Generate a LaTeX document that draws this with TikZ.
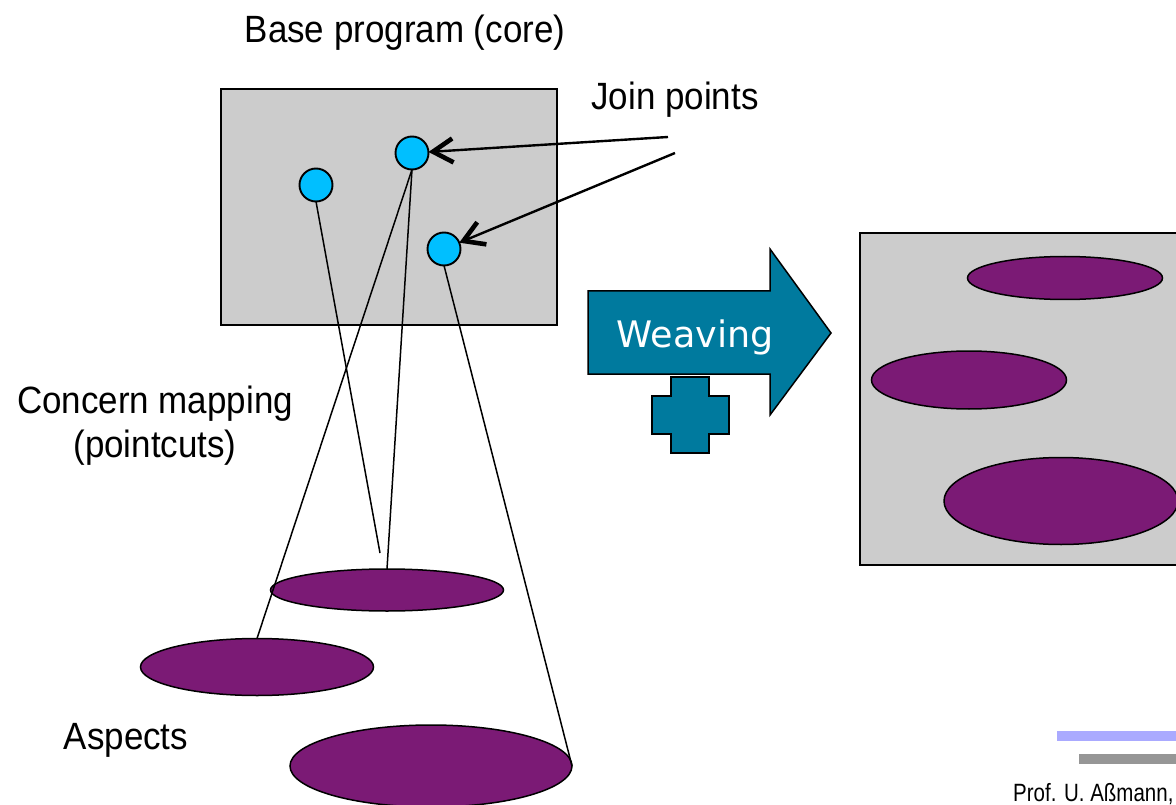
\documentclass[tikz,border=0pt]{standalone}
\usepackage{fontspec}
\setmainfont{Liberation Sans}
\newfontfamily\weavefont{DejaVu Sans}
\newfontfamily\narrowfont[FakeStretch=0.92]{Liberation Sans}
\newfontfamily\footfont[FakeStretch=0.82]{Liberation Sans}
\usetikzlibrary{shapes.geometric,arrows.meta}
\definecolor{boxgray}{HTML}{CCCCCC}
\definecolor{teal0}{HTML}{007A9E}
\definecolor{purp}{HTML}{7B1A75}
\definecolor{cyan0}{HTML}{00BFFF}
\definecolor{barblue}{HTML}{AAAAFF}
\definecolor{bargray}{HTML}{969696}
\tikzset{
  x=1pt,y=-1pt,
  panel/.style={draw=black,fill=boxgray,line width=1.4pt,inner sep=0pt,outer sep=0pt,anchor=north west},
  joint/.style={circle,draw=black,fill=cyan0,line width=1.9pt,minimum size=33pt,inner sep=0pt,outer sep=0pt},
  aspect/.style={ellipse,draw=black,fill=purp,line width=1.5pt,inner sep=0pt,outer sep=0pt},
  lbl/.style={font=\fontsize{38}{44}\selectfont\narrowfont,inner sep=0pt,align=center,text=black},
  link/.style={draw=black,line width=1.5pt},
  pointer/.style={draw=black,line width=2.4pt,-{Straight Barb[length=20pt,width=24pt,line width=4.6pt]}},
  shapeteal/.style={draw=black,fill=teal0,line width=1.5pt,line join=miter}
}
\begin{document}
\begin{tikzpicture}
\useasboundingbox (0,0) rectangle (1176,805);
\clip (0,0) rectangle (1176,805);
\node[panel,minimum width=336pt,minimum height=236pt] (base) at (221,89) {};
\node[panel,minimum width=330pt,minimum height=332pt] (woven) at (860,233) {};
\node[joint] (c1) at (316,185) {};
\node[joint] (c2) at (412,153) {};
\node[joint] (c3) at (444,249) {};
\node[aspect,minimum width=233pt,minimum height=42pt] (a1) at (387,590) {};
\node[aspect,minimum width=233pt,minimum height=57pt] (a2) at (257,667) {};
\node[aspect,minimum width=282pt,minimum height=82pt] (a3) at (431,766) {};
\node[aspect,minimum width=195pt,minimum height=43pt] (r1) at (1065,278) {};
\node[aspect,minimum width=195pt,minimum height=58pt] (r2) at (969,380) {};
\node[aspect,minimum width=234pt,minimum height=87pt] (r3) at (1061,501) {};
\coordinate (e1) at (380,553);
\coordinate (jp1) at (668,137);
\coordinate (jp2) at (675,153);
\draw[link] (c1.south) -- (e1);
\draw[link] (c2.south) -- (a1.north);
\draw[link] (c2.south) -- (a2.north);
\draw[link] (c3.south) -- (a3.east);
\draw[pointer] (jp1) -- (c2);
\draw[pointer] (jp2) -- (c3);
\draw[shapeteal] (588,291) -- (770,291) -- (770,249) -- (831,333) -- (770,415) -- (770,374) -- (588,374) -- cycle;
\node[font=\fontsize{36.5}{43}\selectfont\weavefont,text=white,inner sep=0pt] (w) at (695,337) {Weaving};
\draw[shapeteal] (671,377) -- (709,377) -- (709,396) -- (729,396) -- (729,434) -- (709,434) -- (709,453) -- (671,453) -- (671,434) -- (652,434) -- (652,396) -- (671,396) -- cycle;
\node[lbl] (t1) at (405,33) {Base program (core)};
\node[lbl] (t2) at (675,100) {Join points};
\node[lbl] (t3) at (155,426) {Concern mapping\\(pointcuts)};
\node[lbl] (t4) at (126,740) {Aspects};
\fill[barblue] (1057,731) rectangle (1176,741);
\fill[bargray] (1079,754) rectangle (1176,764);
\node[font=\fontsize{25}{29}\selectfont\footfont,inner sep=0pt,anchor=base west] (t5) at (1013,801) {Prof. U. Aßmann,};
\end{tikzpicture}
\end{document}
